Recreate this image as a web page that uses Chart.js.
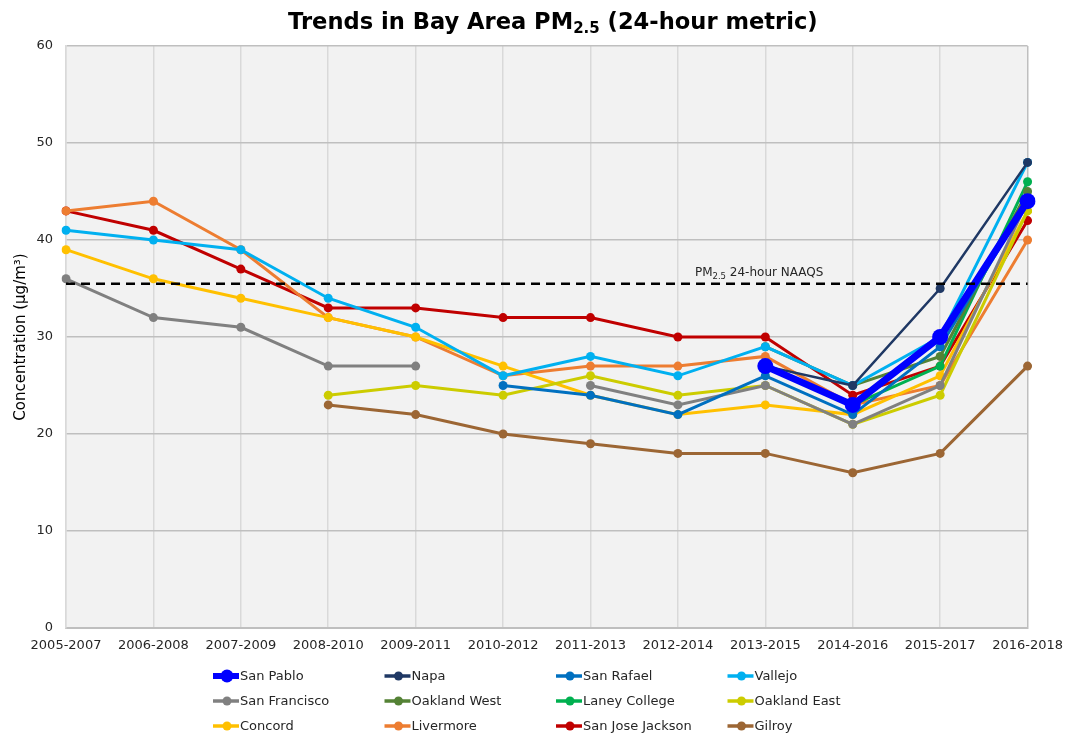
<!DOCTYPE html>
<html>
<head>
<meta charset="utf-8">
<script src="https://cdn.jsdelivr.net/npm/chart.js@4/dist/chart.umd.min.js"></script>
<style>
  html, body { margin: 0; background: #fff; }
</style>
</head>
<body>
<canvas id="chart" width="1073" height="736"></canvas>
<script>
// categories (3-year periods)
const categories = ['2005-2007', '2006-2008', '2007-2009', '2008-2010', '2009-2011', '2010-2012',
  '2011-2013', '2012-2014', '2013-2015', '2014-2016', '2015-2017', '2016-2018'];

// PM2.5 24-hour design values, ug/m3 (null = no data)
const sanPablo     = [null, null, null, null, null, null, null, null, 27, 23, 30, 44];
const napa         = [null, null, null, null, null, null, null, null, 27, 25, 35, 48];
const sanRafael    = [null, null, null, null, null, 25, 24, 22, 26, 22, 29, 44];
const vallejo      = [41, 40, 39, 34, 31, 26, 28, 26, 29, 25, 30, 48];
const sanFrancisco = [36, 32, 31, 27, 27, null, 25, 23, 25, 21, 25, 44];
const oaklandWest  = [null, null, null, null, null, null, null, null, 29, 25, 28, 45];
const laneyCollege = [null, null, null, null, null, null, null, null, null, 23, 27, 46];
const oaklandEast  = [null, null, null, 24, 25, 24, 26, 24, 25, 21, 24, 43];
const concord      = [39, 36, 34, 32, 30, 27, 24, 22, 23, 22, 26, 43];
const livermore    = [43, 44, 39, 32, 30, 26, 27, 27, 28, 23, 25, 40];
const sanJose      = [43, 41, 37, 33, 33, 32, 32, 30, 30, 24, 27, 42];
const gilroy       = [null, null, null, 23, 22, 20, 19, 18, 18, 16, 18, 27];

const naaqsLevel = 35.5;
const yTicks = [0, 10, 20, 30, 40, 50, 60];

const FONT = '"DejaVu Sans", Verdana, sans-serif';

function series(label, data, color, big) {
  return {
    label: label,
    data: data,
    borderColor: color,
    backgroundColor: color,
    borderWidth: big ? 7 : 3,
    pointRadius: big ? 8 : 4.5,
    pointBorderWidth: 0,
    pointHoverRadius: big ? 8 : 4.5,
    spanGaps: false,
    tension: 0
  };
}

let datasets = [
  {
    label: 'NAAQS',
    data: categories.map(() => naaqsLevel),
    borderColor: '#000',
    borderWidth: 2.5,
    borderDash: [9, 6],
    pointRadius: 0,
    hideInLegend: true
  },
  series('San Pablo', sanPablo, '#0000ff', true),
  series('Napa', napa, '#1f3864'),
  series('San Rafael', sanRafael, '#0070c0'),
  series('Vallejo', vallejo, '#00b0f0'),
  series('San Francisco', sanFrancisco, '#808080'),
  series('Oakland West', oaklandWest, '#548235'),
  series('Laney College', laneyCollege, '#00b050'),
  series('Oakland East', oaklandEast, '#cccc00'),
  series('Concord', concord, '#ffc000'),
  series('Livermore', livermore, '#ed7d31'),
  series('San Jose Jackson', sanJose, '#c00000'),
  series('Gilroy', gilroy, '#9c6634')
];
datasets[2].borderWidth = 2.5;

// text with a subscript part, starting at x
function drawParts(ctx, parts, x, y, size, subSize, subDrop, bold) {
  let cx = x;
  ctx.textAlign = 'left';
  ctx.textBaseline = 'alphabetic';
  parts.forEach(p => {
    ctx.font = (bold ? 'bold ' : '') + (p.sub ? subSize : size) + 'px ' + FONT;
    ctx.fillText(p.t, cx, y + (p.sub ? subDrop : 0));
    cx += ctx.measureText(p.t).width;
  });
}

const extras = {
  id: 'extras',
  beforeDraw(chart) {
    const a = chart.chartArea, ctx = chart.ctx;
    ctx.save();
    ctx.fillStyle = '#f2f2f2';
    ctx.fillRect(a.left, a.top, a.right - a.left, a.bottom - a.top);
    ctx.restore();
  },
  afterDraw(chart) {
    const ctx = chart.ctx;
    const xs = chart.scales.x, ys = chart.scales.y;
    ctx.save();
    ctx.fillStyle = '#000';
    // title
    drawParts(ctx, [{t: 'Trends in Bay Area PM'}, {t: '2.5', sub: true}, {t: ' (24-hour metric)'}],
      288, 29, 22.6, 15, 4, true);
    // NAAQS label
    ctx.fillStyle = '#262626';
    drawParts(ctx, [{t: 'PM'}, {t: '2.5', sub: true}, {t: ' 24-hour NAAQS'}],
      xs.getPixelForValue(7) + 17, ys.getPixelForValue(naaqsLevel) - 8, 12, 8.5, 3, false);

    // legend, 4 columns x 3 rows
    const items = chart.data.datasets.filter(d => !d.hideInLegend);
    items.forEach((d, i) => {
      const col = i % 4, row = Math.floor(i / 4);
      const x0 = 213 + col * 171.5, y0 = 676 + row * 25;
      const big = d.borderWidth > 4;
      ctx.strokeStyle = d.borderColor;
      ctx.fillStyle = d.borderColor;
      ctx.lineWidth = big ? 6 : 3.5;
      ctx.beginPath();
      ctx.moveTo(x0, y0);
      ctx.lineTo(x0 + 26, y0);
      ctx.stroke();
      ctx.beginPath();
      ctx.arc(x0 + 14, y0, big ? 6.5 : 4.5, 0, Math.PI * 2);
      ctx.fill();
      ctx.fillStyle = '#262626';
      ctx.font = '13px ' + FONT;
      ctx.textAlign = 'left';
      ctx.textBaseline = 'middle';
      ctx.fillText(d.label, x0 + 27, y0 + 1);
    });
    ctx.restore();
  }
};

let chart = new Chart(document.getElementById('chart').getContext('2d'), {
  type: 'line',
  data: { labels: categories, datasets: datasets },
  plugins: [extras],
  options: {
    responsive: false,
    animation: false,
    layout: { padding: { top: 46, right: 43, left: 0, bottom: 0 } },
    plugins: { legend: { display: false }, tooltip: { enabled: false } },
    scales: {
      x: {
        offset: false,
        grid: {
          color: c => (c.index === categories.length - 1 ? '#bfbfbf' : '#d9d9d9'),
          lineWidth: 1.5,
          drawTicks: false
        },
        border: { color: '#bfbfbf', width: 2 },
        ticks: { color: '#262626', font: { family: FONT, size: 13 }, padding: 10, maxRotation: 0, autoSkip: false },
        afterFit: s => { s.height = 108; }
      },
      y: {
        min: 0,
        max: 60,
        afterBuildTicks: s => { s.ticks = yTicks.map(v => ({ value: v })); },
        grid: { color: '#bfbfbf', lineWidth: 1.5, drawTicks: false },
        border: { color: '#d9d9d9', width: 1.5 },
        ticks: { color: '#262626', font: { family: FONT, size: 13 }, padding: 13 },
        title: { display: true, text: 'Concentration (μg/m³)', color: '#000', font: { family: FONT, size: 15 }, padding: { top: 12, bottom: 0 } },
        afterFit: s => { s.width = 66; }
      }
    }
  }
});
</script>
</body>
</html>
